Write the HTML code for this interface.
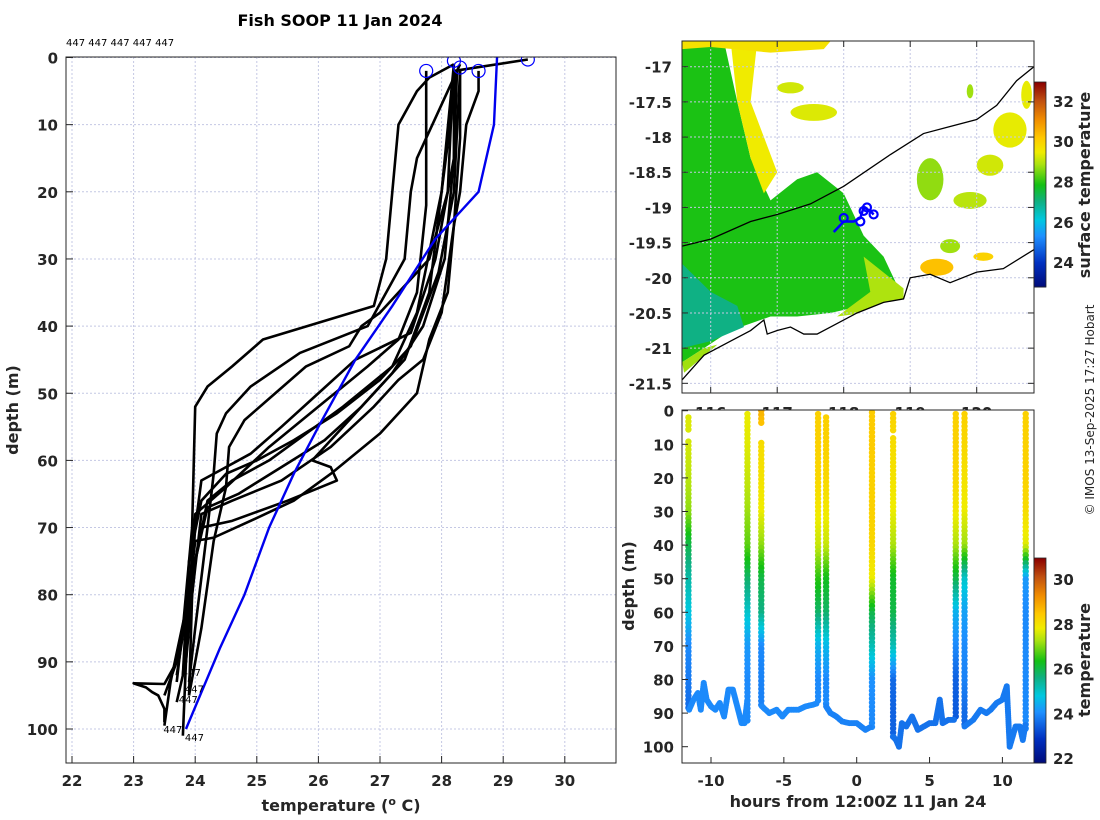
<!DOCTYPE html>
<html><head><meta charset="utf-8"><style>
html,body{margin:0;padding:0;background:#fff;}
svg{display:block;font-family:"DejaVu Sans","Liberation Sans",sans-serif;}
.tk{font-size:15px;font-weight:bold;fill:#262626;}
.lb{font-size:16px;font-weight:bold;fill:#262626;}
</style></head><body>
<svg id="s" width="1100" height="820" viewBox="0 0 1100 820" xmlns="http://www.w3.org/2000/svg">
<defs>
<clipPath id="cL"><rect x="66" y="57" width="550" height="706"/></clipPath>
<clipPath id="cM"><rect x="682" y="41" width="352" height="352"/></clipPath>
<clipPath id="cB"><rect x="682" y="410" width="352" height="353"/></clipPath>
</defs>
<text x="340" y="26" text-anchor="middle" style="font-size:16px;font-weight:bold">Fish SOOP 11 Jan 2024</text>
<text x="66" y="46" style="font-size:10px">447 447 447 447 447</text>
<text x="0" y="0" transform="translate(1094,410) rotate(-90)" text-anchor="middle" style="font-size:12px;fill:#262626">© IMOS 13-Sep-2025 17:27 Hobart</text>
<g id="gL"></g>
<g id="gM"></g>
<g id="gB"></g>
</svg>
<script>
// ---------- data: temperature profiles (temp, depth) ----------
const profA=[[28.2,1],[27.8,3],[27.6,5],[27.3,10],[27.2,20],[27.1,30],[26.9,37],[26.0,39.5],[25.1,42],[24.6,46],[24.2,49],[24.0,52],[23.95,70],[23.8,85],[23.7,93]];
const profB=[[28.3,1],[28.1,5],[27.85,10],[27.6,15],[27.5,20],[27.4,30],[26.8,40],[25.7,44],[24.9,49],[24.5,53],[24.35,56],[24.3,62],[24.2,70],[24.0,85],[23.9,93]];
const profC=[[28.2,2],[28.15,10],[28.1,20],[27.8,30],[27.0,38],[26.7,40],[26.5,43],[25.8,46],[25.3,50],[24.8,54],[24.55,58],[24.5,64],[24.3,72],[24.1,85],[23.9,95]];
const profD=[[28.25,2],[28.2,15],[27.9,30],[27.5,41],[26.6,45],[26.0,50],[25.4,55],[24.9,59],[24.4,61.5],[24.1,63],[24.0,70],[23.85,90],[23.7,96]];
const profE=[[28.3,2],[28.2,20],[27.95,32],[27.5,43],[27.0,48],[26.3,53],[25.6,57],[25.0,60],[24.5,62],[24.1,66],[23.9,75],[23.8,92]];
const profF=[[28.6,2],[28.6,5],[28.4,10],[28.3,20],[28.2,25],[28.1,35],[27.8,42],[27.6,50],[27.0,56],[26.2,62],[25.6,66],[24.9,69],[24.3,71.5],[24.0,72],[23.9,80],[23.8,92]];
const profG=[[28.25,2],[28.0,20],[27.8,35],[27.4,45],[26.9,50],[26.5,54],[25.9,60],[26.2,61],[26.3,63],[25.5,66],[24.6,69],[24.1,70],[23.9,80],[23.7,92]];
const profH=[[28.2,1],[28.0,20],[27.6,38],[27.2,46],[26.4,52],[25.8,56],[25.2,60],[24.6,63],[24.2,66],[24.0,75],[23.7,90],[23.5,95]];
const profI=[[27.75,2],[27.75,22],[27.6,35],[27.3,42],[26.8,46],[26.0,52],[25.2,58],[24.5,64],[24.0,68],[23.9,80],[23.6,93],[23.5,99.5]];
const profJ=[[29.4,0.3],[28.2,2],[28.2,15],[28.05,30],[27.7,40],[27.2,47],[26.7,52],[26.1,57],[25.4,61],[24.7,65],[24.2,67],[24.0,75],[23.85,90],[23.8,101]];
const profK=[[28.3,2],[28.3,12],[28.2,25],[28.0,38],[27.7,45],[27.3,48],[26.9,52],[26.2,58],[25.4,63],[24.6,66],[24.1,68],[23.95,80],[23.9,95]];
const profL=[[23.7,90],[23.5,93.3],[23.0,93.2],[23.2,93.8],[23.3,94.5],[23.4,95],[23.5,97],[23.5,99]];
const blueProf=[[28.9,0],[28.85,10],[28.6,20],[27.9,27],[27.2,37],[26.6,45],[26.0,55],[25.6,62],[25.2,70],[24.8,80],[24.4,88],[23.85,100]];
const startCircles=[[27.75,2],[28.2,0.5],[28.3,1.5],[28.6,2],[29.4,0.3]];
const endLabels=[[23.75,91.5],[23.8,94],[23.7,95.5],[23.45,100],[23.8,101.2]];
const xTicksL=[22,23,24,25,26,27,28,29,30];
const yTicks=[0,10,20,30,40,50,60,70,80,90,100];

// ---------- map data ----------
const latTicks=[-17,-17.5,-18,-18.5,-19,-19.5,-20,-20.5,-21,-21.5];
const lonTicks=[116,117,118,119,120];
const coastSouth=[[115.57,-21.45],[115.9,-21.1],[116.3,-20.9],[116.6,-20.75],[116.8,-20.6],[116.85,-20.8],[117.0,-20.75],[117.2,-20.7],[117.4,-20.8],[117.6,-20.8],[117.8,-20.7],[118.2,-20.5],[118.6,-20.35],[118.9,-20.3],[119.0,-20.0],[119.3,-19.95],[119.6,-20.07],[120.0,-19.92],[120.4,-19.87],[120.86,-19.6]];
const contour=[[115.57,-19.55],[116.0,-19.45],[116.6,-19.2],[117.0,-19.1],[117.5,-18.95],[118.0,-18.7],[118.7,-18.25],[119.2,-17.95],[120.0,-17.75],[120.3,-17.55],[120.6,-17.2],[120.86,-17.0]];
const trackPts=[[117.85,-19.35],[118.0,-19.2],[118.15,-19.2],[118.25,-19.15],[118.3,-19.0],[118.4,-19.05],[118.45,-19.1]];
const trackCircles=[[118.0,-19.15],[118.25,-19.2],[118.3,-19.05],[118.35,-19.0],[118.45,-19.1]];
const sstRegions=[
 {t:27.9,p:[[115.57,-16.64],[116.2,-16.64],[116.4,-17.5],[116.6,-18.3],[116.9,-18.9],[117.3,-18.6],[117.6,-18.5],[118.0,-18.8],[118.3,-19.4],[118.6,-19.7],[118.8,-20.1],[118.5,-20.35],[117.8,-20.5],[117.3,-20.55],[116.9,-20.55],[116.3,-20.75],[115.9,-21.0],[115.57,-21.2]]},
 {t:27.0,p:[[115.57,-19.8],[116.0,-20.2],[116.4,-20.4],[116.5,-20.7],[116.0,-20.9],[115.57,-21.0]]},
 {t:29.5,p:[[116.3,-16.64],[116.7,-16.64],[116.6,-17.5],[116.8,-18.0],[117.0,-18.5],[116.8,-18.8],[116.6,-18.3],[116.4,-17.5]]},
 {t:28.9,p:[[118.3,-19.7],[118.9,-20.15],[118.9,-20.35],[118.3,-20.5],[117.9,-20.55],[118.4,-20.2]]},
 {t:29.7,p:[[115.57,-16.64],[117.8,-16.64],[117.7,-16.75],[116.9,-16.8],[116.0,-16.72],[115.57,-16.75]]},
 {t:28.8,p:[[115.57,-21.2],[115.9,-21.0],[116.1,-20.95],[115.6,-21.35]]}
];
const sstPatches=[[117.55,-17.65,0.35,0.12,29.3],[117.2,-17.3,0.2,0.08,29.2],[119.3,-18.6,0.2,0.3,28.7],[119.9,-18.9,0.25,0.12,29.0],[120.5,-17.9,0.25,0.25,29.4],[120.2,-18.4,0.2,0.15,29.2],[119.4,-19.85,0.25,0.12,30.3],[120.1,-19.7,0.15,0.06,30.0],[119.6,-19.55,0.15,0.1,28.8],[120.75,-17.4,0.08,0.2,29.4],[119.9,-17.35,0.05,0.1,28.8]];
const mapCbTicks=[24,26,28,30,32];

// ---------- depth-time data ----------
const castTimes=[-11.55,-7.5,-6.55,-2.65,-2.1,1.05,2.5,6.8,7.4,11.6];
const castTop=[2,1,0,1,2,0.5,1,1,1,1];
const castBottom=[89,93,88,87,88,95,98,92,94,95];
const castTemps=[
 [27.7,27.6,27.4,27.1,26.0,25.3,24.8,24.0,23.8,23.6,23.6],
 [27.8,27.7,27.5,27.2,26.8,25.8,25.0,24.2,24.0,24.0,24.0],
 [28.8,28.1,28.0,27.8,27.1,26.0,25.6,24.0,23.9,23.9,23.9],
 [28.3,28.3,28.2,27.9,27.5,26.5,25.8,24.5,24.0,24.0,24.0],
 [28.3,28.3,28.2,27.9,27.5,26.3,25.8,24.6,24.0,24.0,24.0],
 [28.4,28.4,28.3,28.3,28.2,27.8,26.0,25.2,24.1,24.0,24.0],
 [28.3,28.1,28.0,27.8,27.3,26.2,26.0,25.2,23.6,23.5,23.5],
 [28.3,28.3,28.2,27.9,27.3,26.0,24.5,24.0,23.5,23.4,23.4],
 [28.3,28.2,28.0,27.8,27.2,25.0,24.3,24.0,23.9,23.6,23.6],
 [28.3,28.3,28.3,28.1,27.7,24.2,24.0,24.0,24.0,24.0,24.0]];
const castGaps=[[6,9],null,[4,9],null,null,null,[7,8],null,null,null];
const trackSeg1=[[-11.5,89],[-11.2,86],[-10.9,84],[-10.7,89],[-10.5,81],[-10.3,86],[-10,88],[-9.7,89],[-9.4,87],[-9.1,91],[-8.8,83],[-8.5,83],[-8.2,88],[-7.9,93],[-7.7,93],[-7.5,86]];
const trackSeg2=[[-6.5,88],[-6.0,90],[-5.5,89],[-5.1,91],[-4.7,89],[-4.0,89],[-3.5,88],[-3,87.5],[-2.65,87]];
const trackSeg3=[[-2.1,88],[-1.8,90],[-1.4,91],[-1,92.5],[-0.5,93],[0,93],[0.3,94],[0.6,95],[1.0,94]];
const trackSeg4=[[2.5,97],[2.7,98],[2.9,100],[3.1,93],[3.4,94],[3.8,91],[4.2,95],[4.6,94],[5,93],[5.4,93],[5.7,86],[5.9,93],[6.3,92],[6.8,92]];
const trackSeg5=[[7.4,94],[8,92],[8.5,89],[8.9,90],[9.2,89],[9.6,87],[10,86],[10.3,82],[10.5,100],[10.9,94],[11.2,94],[11.4,98],[11.6,93]];
const trackSegTemps=[24.0,24.0,23.9,23.7,23.8];
const xTicksB=[-10,-5,0,5,10];
const bCbTicks=[22,24,26,28,30];

const NS="http://www.w3.org/2000/svg";
function mk(parent,tag,attrs,txt){const e=document.createElementNS(NS,tag);for(const k in attrs)e.setAttribute(k,attrs[k]);if(txt!==undefined)e.textContent=txt;parent.appendChild(e);return e;}
const CM=[[0,[0,10,120]],[0.12,[0,48,192]],[0.25,[30,144,255]],[0.33,[0,200,224]],[0.42,[16,176,128]],[0.5,[20,192,20]],[0.6,[170,226,16]],[0.66,[240,236,0]],[0.73,[255,200,0]],[0.82,[240,140,0]],[0.91,[192,80,16]],[1,[138,0,0]]];
function jet(v){v=Math.max(0,Math.min(1,v));for(let i=0;i<CM.length-1;i++){const a=CM[i],b=CM[i+1];if(v<=b[0]){const f=(v-a[0])/(b[0]-a[0]);const c=a[1].map((x,k)=>Math.round(x+(b[1][k]-x)*f));return `rgb(${c[0]},${c[1]},${c[2]})`;}}return 'rgb(138,0,0)';}
const GRID="#c4c8e4";

// ===== Left profile plot =====
const gL=document.getElementById('gL');
const X=t=>72+(t-22)*61.6, Y=d=>57.5+d*6.715;
mk(gL,'rect',{x:66,y:57,width:550,height:706,fill:'#fff'});
xTicksL.forEach(t=>{
 const l=mk(gL,'line',{x1:X(t),x2:X(t),y1:57,y2:763,stroke:GRID,'stroke-dasharray':'2,2','stroke-width':1});
 
 
 const tl=mk(gL,'text',{x:X(t),y:786,'text-anchor':'middle',class:'tk'},String(t));
 
 
 mk(gL,'line',{x1:X(t),x2:X(t),y1:763,y2:756,stroke:'#262626'});
});
yTicks.forEach(d=>{
 const l=mk(gL,'line',{x1:66,x2:616,y1:Y(d),y2:Y(d),stroke:GRID,'stroke-dasharray':'2,2','stroke-width':1});
 
 
 const tl=mk(gL,'text',{x:58,y:Y(d)+6,'text-anchor':'end',class:'tk'},String(d));
 
 
 mk(gL,'line',{x1:66,x2:73,y1:Y(d),y2:Y(d),stroke:'#262626'});
});
const gLc=mk(gL,'g',{'clip-path':'url(#cL)'});
[profA,profB,profC,profD,profE,profF,profG,profH,profI,profJ,profK,profL].forEach((p,i)=>{
 const pl=mk(gLc,'polyline',{points:p.map(q=>X(q[0])+','+Y(q[1])).join(' '),fill:'none',stroke:'#000','stroke-width':2.6,'stroke-linejoin':'round'});
 
 
});
const bl=mk(gLc,'polyline',{points:blueProf.map(q=>X(q[0])+','+Y(q[1])).join(' '),fill:'none',stroke:'#0000ee','stroke-width':2.4});


startCircles.forEach(c=>{
 const e=mk(gLc,'circle',{cx:X(c[0]),cy:Y(c[1]),r:6.5,fill:'none',stroke:'#0000ff','stroke-width':1.2});
 
 
});
endLabels.forEach(c=>{
 const e=mk(gL,'text',{x:X(c[0])+2,y:Y(c[1])+4,style:'font-size:10px'},'447');
 
 
});
mk(gL,'rect',{x:66,y:57,width:550,height:706,fill:'none',stroke:'#262626','stroke-width':1});
let t1=mk(gL,'text',{x:341,y:811,'text-anchor':'middle',class:'lb'});
t1.innerHTML='temperature (<tspan dy="-6" style="font-size:11px">o</tspan><tspan dy="6"> C)</tspan>';


t1=mk(gL,'text',{x:0,y:0,transform:'translate(18,410) rotate(-90)','text-anchor':'middle',class:'lb'},'depth (m)');



// ===== Map =====
const gM=document.getElementById('gM');
const MX=l=>710.7+(l-116)*66.5, MY=a=>66.7+(-17-a)*70.36;
const mcol=t=>jet((t-22.76)/(32.94-22.76));
const gMc=mk(gM,'g',{'clip-path':'url(#cM)'});
sstRegions.forEach(r=>{
 const e=mk(gMc,'polygon',{points:r.p.map(q=>MX(q[0])+','+MY(q[1])).join(' '),fill:mcol(r.t)});
 
 
});
sstPatches.forEach(p=>{
 const e=mk(gMc,'ellipse',{cx:MX(p[0]),cy:MY(p[1]),rx:p[2]*66.5,ry:p[3]*70.36,fill:mcol(p[4])});
 
 
});
mk(gMc,'polygon',{points:coastSouth.map(q=>MX(q[0])+','+MY(q[1])).join(' ')+` ${MX(120.86)},400 ${MX(115.57)},400`,fill:'#fff'});
lonTicks.forEach(l=>{mk(gMc,'line',{x1:MX(l),x2:MX(l),y1:41,y2:393,stroke:GRID,'stroke-dasharray':'2,2'});});
latTicks.forEach(a=>{mk(gMc,'line',{x1:682,x2:1034,y1:MY(a),y2:MY(a),stroke:GRID,'stroke-dasharray':'2,2'});});
let e=mk(gMc,'polyline',{points:coastSouth.map(q=>MX(q[0])+','+MY(q[1])).join(' '),fill:'none',stroke:'#000','stroke-width':1.3});


e=mk(gMc,'polyline',{points:contour.map(q=>MX(q[0])+','+MY(q[1])).join(' '),fill:'none',stroke:'#000','stroke-width':1.3});


e=mk(gMc,'polyline',{points:trackPts.map(q=>MX(q[0])+','+MY(q[1])).join(' '),fill:'none',stroke:'#0000ff','stroke-width':2.5});


trackCircles.forEach(c=>{
 const k=mk(gMc,'circle',{cx:MX(c[0]),cy:MY(c[1]),r:4,fill:'none',stroke:'#0000ff','stroke-width':2.2});
 
 
});
latTicks.forEach(a=>{
 const k=mk(gM,'text',{x:672,y:MY(a)+6,'text-anchor':'end',class:'tk'},String(a));
 
 
 mk(gM,'line',{x1:682,x2:688,y1:MY(a),y2:MY(a),stroke:'#262626'});
 mk(gM,'line',{x1:1028,x2:1034,y1:MY(a),y2:MY(a),stroke:'#262626'});
});
lonTicks.forEach(l=>{
 const k=mk(gM,'text',{x:MX(l),y:418,'text-anchor':'middle',class:'tk'},String(l));
 
 
 mk(gM,'line',{x1:MX(l),x2:MX(l),y1:393,y2:387,stroke:'#262626'});
 mk(gM,'line',{x1:MX(l),x2:MX(l),y1:41,y2:47,stroke:'#262626'});
});
mk(gM,'rect',{x:682,y:41,width:352,height:352,fill:'none',stroke:'#262626'});
for(let i=0;i<205;i++){mk(gM,'rect',{x:1034,y:82+i,width:12,height:1.5,fill:jet(1-i/205)});}
mapCbTicks.forEach(t=>{
 const y=82+(32.94-t)/(32.94-22.76)*205;
 const k=mk(gM,'text',{x:1053,y:y+6,class:'tk'},String(t));
 
 
});
e=mk(gM,'rect',{x:1034,y:82,width:12,height:205,fill:'none',stroke:'#262626','stroke-width':0.8});


e=mk(gM,'text',{x:0,y:0,transform:'translate(1090,185) rotate(-90)','text-anchor':'middle',class:'lb'},'surface temperature');



// ===== Depth-time plot =====
const gB=document.getElementById('gB');
const BX=h=>711+(h+10)*14.57, BY=d=>410.7+d*3.36;
const bcol=t=>jet((t-21.78)/(30.94-21.78));
mk(gB,'rect',{x:682,y:410,width:352,height:353,fill:'#fff'});
const gBc=mk(gB,'g',{'clip-path':'url(#cB)'});
function interpT(arr,d){const i=Math.min(9,Math.floor(d/10));const f=(d-i*10)/10;return arr[i]*(1-f)+arr[i+1]*f;}
castTimes.forEach((h,ci)=>{
 const g=mk(gBc,'g',{});
 
 
 for(let d=castTop[ci];d<=castBottom[ci];d+=1.2){
  const gp=castGaps[ci];if(gp&&d>gp[0]&&d<gp[1])continue;
  mk(g,'circle',{cx:BX(h),cy:BY(d),r:3.2,fill:bcol(interpT(castTemps[ci],d))});
 }
});
[trackSeg1,trackSeg2,trackSeg3,trackSeg4,trackSeg5].forEach((seg,si)=>{
 const g=mk(gBc,'g',{});
 
 
 const c=bcol(trackSegTemps[si]);
 for(let i=0;i<seg.length-1;i++){
  const a=seg[i],b=seg[i+1];const n=Math.max(2,Math.ceil(Math.hypot(BX(b[0])-BX(a[0]),BY(b[1])-BY(a[1]))/2));
  for(let k=0;k<n;k++){const f=k/n;mk(g,'circle',{cx:BX(a[0]+(b[0]-a[0])*f),cy:BY(a[1]+(b[1]-a[1])*f),r:3,fill:c});}
 }
});
mk(gB,'rect',{x:682,y:410,width:352,height:353,fill:'none',stroke:'#262626'});
xTicksB.forEach(h=>{
 const k=mk(gB,'text',{x:BX(h),y:786,'text-anchor':'middle',class:'tk'},String(h));
 
 
 mk(gB,'line',{x1:BX(h),x2:BX(h),y1:763,y2:757,stroke:'#262626'});
});
yTicks.forEach(d=>{
 const k=mk(gB,'text',{x:674,y:BY(d)+6,'text-anchor':'end',class:'tk'},String(d));
 
 
 mk(gB,'line',{x1:682,x2:688,y1:BY(d),y2:BY(d),stroke:'#262626'});
});
for(let i=0;i<205;i++){mk(gB,'rect',{x:1034,y:558+i,width:12,height:1.5,fill:jet(1-i/205)});}
bCbTicks.forEach(t=>{
 const y=558+(30.94-t)/(30.94-21.78)*205;
 const k=mk(gB,'text',{x:1053,y:y+6,class:'tk'},String(t));
 
 
});
e=mk(gB,'rect',{x:1034,y:558,width:12,height:205,fill:'none',stroke:'#262626','stroke-width':0.8});


e=mk(gB,'text',{x:0,y:0,transform:'translate(1090,660) rotate(-90)','text-anchor':'middle',class:'lb'},'temperature');


e=mk(gB,'text',{x:858,y:807,'text-anchor':'middle',class:'lb'},'hours from 12:00Z 11 Jan 24');


e=mk(gB,'text',{x:0,y:0,transform:'translate(634,586) rotate(-90)','text-anchor':'middle',class:'lb'},'depth (m)');


</script>
</body></html>
